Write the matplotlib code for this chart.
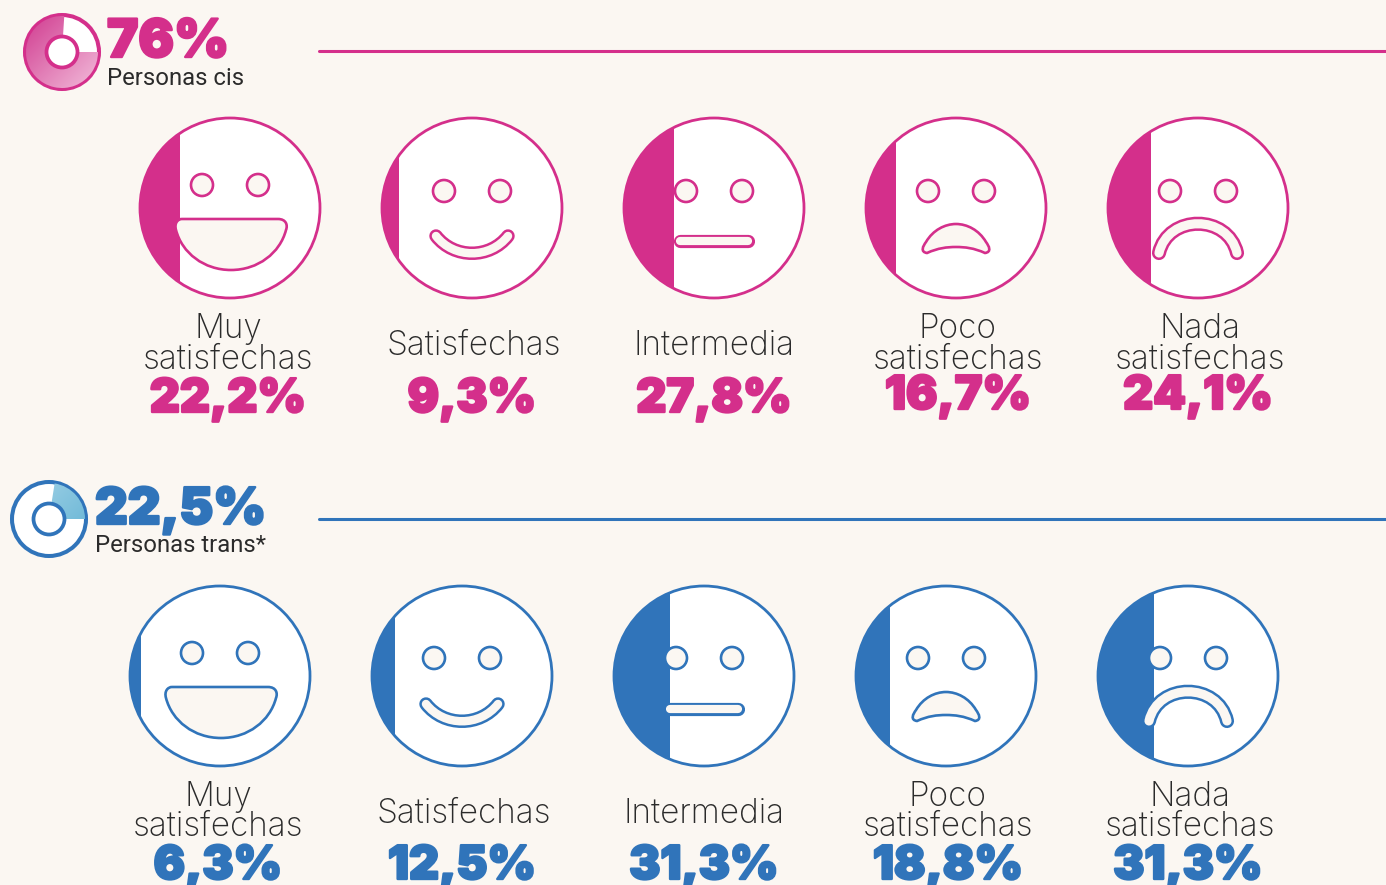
import numpy as np
import matplotlib
matplotlib.use('Agg')
import matplotlib.pyplot as plt
from matplotlib.patches import Circle, PathPatch, Rectangle, Wedge
from matplotlib.path import Path
import matplotlib.patheffects as pe

# data
labels = ['Muy\nsatisfechas', 'Satisfechas', 'Intermedia', 'Poco\nsatisfechas', 'Nada\nsatisfechas']
mouths = ['grin', 'smile', 'flat', 'frown', 'sad']
cis_values = [22.2, 9.3, 27.8, 16.7, 24.1]
trans_values = [6.3, 12.5, 31.3, 18.8, 31.3]
cis_total = 76
trans_total = 22.5

BG = '#fbf7f2'
PINK = '#d42f8b'
BLUE = '#3074ba'
DARK = '#2b2b2b'
R = 90


def pct(v):
    return ('%g%%' % v).replace('.', ',')


def mouth_path(kind, cx, cy):
    M, L, C4, Z = Path.MOVETO, Path.LINETO, Path.CURVE4, Path.CLOSEPOLY
    if kind == 'grin':
        v = [(-48, 11), (48, 11), (56, 11), (58, 17), (56, 22), (50, 45), (28, 62), (1, 62),
             (-26, 62), (-48, 45), (-54, 22), (-56, 15), (-52, 11), (-48, 11), (-48, 11)]
        c = [M, L] + [C4] * 12 + [Z]
    elif kind == 'frown':
        v = [(-29, 45), (-36, 44), (-33, 38), (-30, 34), (-23, 22), (-11, 16), (0, 16),
             (11, 16), (23, 22), (30, 34), (33, 38), (36, 44), (29, 45),
             (18, 40), (9, 39), (0, 39), (-9, 39), (-18, 40), (-29, 45), (-29, 45)]
        c = [M] + [C4] * 18 + [Z]
    elif kind == 'smile':
        v = [(-36, 28), (-18, 51), (18, 51), (36, 28)]
        c = [M, C4, C4, C4]
    elif kind == 'flat':
        v = [(-34, 33), (34, 33)]
        c = [M, L]
    else:
        v = [(-39, 45), (-30, 6), (30, 6), (39, 45)]
        c = [M, C4, C4, C4]
    return Path(np.array(v, dtype=float) + (cx, cy), c)


def draw_face(ax, cx, cy, value, kind, color, eye_dy):
    face = Circle((cx, cy), R, fc='white', ec='none', zorder=2)
    ax.add_patch(face)
    # the filled part is as wide as the share of the diameter
    band = Rectangle((cx - R, cy - R), 2 * R * value / 100, 2 * R, fc=color, ec='none', zorder=3)
    ax.add_patch(band)
    band.set_clip_path(face)
    ax.add_patch(Circle((cx, cy), R, fc='none', ec=color, lw=2.0, zorder=4))
    for dx in (-28, 28):
        ax.add_patch(Circle((cx + dx, cy + eye_dy), 11, fc=BG, ec=color, lw=1.9, zorder=5))
    p = mouth_path(kind, cx, cy)
    if kind in ('grin', 'frown'):
        ax.add_patch(PathPatch(p, fc=BG, ec=color, lw=1.9, zorder=5))
    else:
        w = {'flat': 9.5, 'smile': 9.7, 'sad': 10.2}[kind]
        ax.add_patch(PathPatch(p, fc='none', ec=color, lw=w, capstyle='round', zorder=5))
        ax.add_patch(PathPatch(p, fc='none', ec=BG, lw=w - 3.6, capstyle='round', zorder=6))


def draw_donut(ax, cx, cy, theta1, theta2, colors, color):
    ax.add_patch(Circle((cx, cy), 37, fc='white', ec=color, lw=2.9, zorder=2))
    # y axis is flipped, so positive angles run clockwise on screen
    wedge = Wedge((cx, cy), 36, theta1, theta2, fc='none', ec='none', zorder=3)
    ax.add_patch(wedge)
    grad = np.linspace(0, 1, 64)
    xx, yy = np.meshgrid(grad, grad)
    rgb0, rgb1 = [np.array(matplotlib.colors.to_rgb(c)) for c in colors]
    t = ((xx + yy) / 2)[..., None]
    im = ax.imshow(rgb0 * (1 - t) + rgb1 * t, extent=(cx - 38, cx + 38, cy + 38, cy - 38),
                   zorder=3, interpolation='bilinear', aspect='auto')
    im.set_clip_path(wedge)
    ax.add_patch(Circle((cx, cy), 15.5, fc='white', ec=color, lw=2.7, zorder=4))


fig = plt.figure(figsize=(13.86, 8.85), dpi=100, facecolor=BG)
ax = fig.add_axes([0, 0, 1, 1])
ax.set_xlim(0, 1386)
ax.set_ylim(885, 0)
ax.axis('off')


def big_text(x, y, s, color, size, ha='center'):
    ax.text(x, y, s, color=color, fontsize=size, family='Inter', fontweight='black',
            ha=ha, va='baseline', zorder=7,
            path_effects=[pe.withStroke(linewidth=1.7, foreground=color)])


def label_text(x, y, s):
    ax.text(x, y, s, color=DARK, fontsize=24, family='Inter', fontweight='light',
            ha='center', va='baseline', zorder=7)


def draw_group(xs, cy, values, color, eye_ys, label_ys, value_ys, label_xs, value_xs):
    for i, v in enumerate(values):
        draw_face(ax, xs[i], cy, v, mouths[i], color, eye_ys[i])
        parts = labels[i].split('\n')
        if len(parts) == 2:
            label_text(label_xs[i], label_ys[0], parts[0])
            label_text(label_xs[i], label_ys[1], parts[1])
        else:
            label_text(label_xs[i], label_ys[2], parts[0])
        big_text(value_xs[i], value_ys[i], pct(v), color, 33.5)


# Personas cis
draw_donut(ax, 62, 52, 0, 3.6 * cis_total, ('#d03a8f', '#f3bfdc'), PINK)
big_text(107, 57, pct(cis_total), PINK, 38, ha='left')
ax.text(107, 85, 'Personas cis', color=DARK, fontsize=17.2, family='Roboto', ha='left', va='baseline', zorder=7)
ax.plot([319, 1386], [51, 51], color=PINK, lw=2.2, solid_capstyle='round')
draw_group([230, 472, 714, 956, 1198], 208, cis_values, PINK,
           [-23, -17, -17, -17, -17], (338, 369, 355),
           [412, 412, 412, 409, 409], [228, 474, 714, 958, 1200], [228, 472, 714, 958, 1198])

# Personas trans
draw_donut(ax, 49, 519, -3.6 * trans_total, 0, ('#a8d5e8', '#5fb1d3'), BLUE)
big_text(95, 524, pct(trans_total), BLUE, 36.5, ha='left')
ax.text(95, 552, 'Personas trans*', color=DARK, fontsize=17.2, family='Roboto', ha='left', va='baseline', zorder=7)
ax.plot([319, 1386], [519, 519], color=BLUE, lw=2.2, solid_capstyle='round')
draw_group([220, 462, 704, 946, 1188], 676, trans_values, BLUE,
           [-23, -18, -18, -18, -18], (806, 836, 823),
           [879, 879, 879, 879, 879], [218, 464, 704, 948, 1190], [218, 462, 704, 948, 1188])

ax.set_xlim(0, 1386)
ax.set_ylim(885, 0)
fig.savefig('out.png', dpi=100, facecolor=BG)
